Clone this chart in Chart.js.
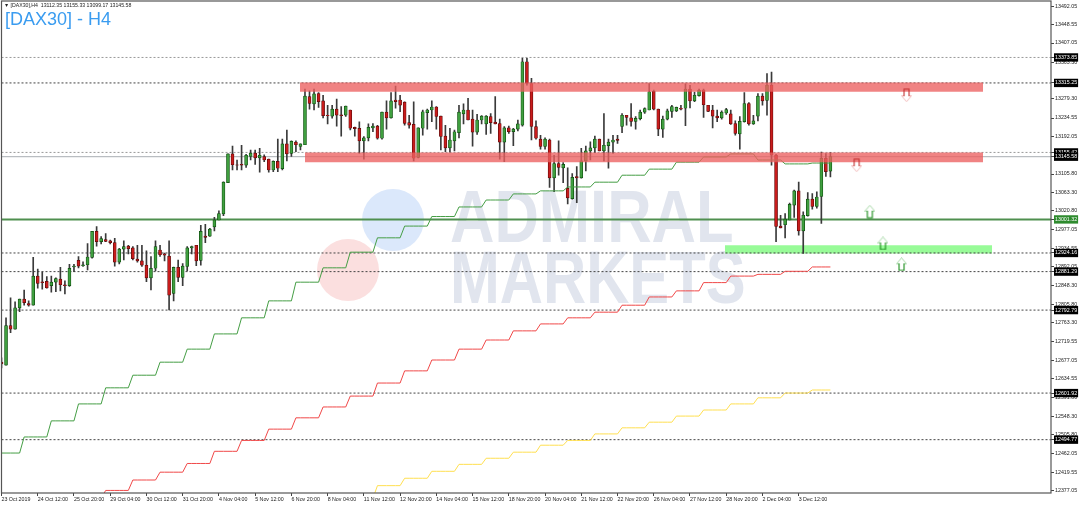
<!DOCTYPE html>
<html>
<head>
<meta charset="utf-8">
<title>DAX30 H4</title>
<script src="https://cdn.jsdelivr.net/npm/chart.js@4"></script>
<style>
    body { margin: 0; background: #fff; }
    #wrap { position: relative; width: 1080px; height: 505px; overflow: hidden; font-family: "Liberation Sans", sans-serif; }
    #grafico { position: absolute; left: 0; top: 0; }
    .head { position: absolute; left: 4px; top: 1px; font-size: 5.2px; line-height: 9px; color: #222; white-space: pre; }
    .titulo { position: absolute; left: 5px; top: 9px; font-size: 18px; line-height: 21px; color: #3a9cf0; white-space: pre; }
    .circ { position: absolute; width: 62px; height: 62px; border-radius: 50%; }
    .marca { position: absolute; left: 450px; font-size: 75px; line-height: 75px; font-weight: bold; color: #e1e5ee; transform-origin: left top; white-space: pre; }
</style>
</head>
<body>
<div id="wrap">
    <div class="circ" style="left:362px; top:189px; background:#dbe8fb;"></div>
    <div class="circ" style="left:317px; top:239px; background:#fbdfdf;"></div>
    <div class="marca" style="top:179px; transform:scaleX(0.82);">ADMIRAL</div>
    <div class="marca" style="top:240px; transform:scaleX(0.797);">MARKETS</div>
    <canvas id="grafico" width="1080" height="505"></canvas>
    <div class="head">▼ [DAX30],H4  13112.35 13155.33 13099.17 13145.58</div>
    <div class="titulo">[DAX30] - H4</div>
</div>
<script>
const opens = [12673,12666,12757,12749,12798,12818,12808,12804,12871,12858,12859,
    12849,12857,12864,12851,12849,12892,12907,12895,12897,12914,
    12974,12950,12955,12952,12948,12903,12933,12940,12936,12910,
    12906,12896,12867,12889,12931,12922,12917,12831,12891,12868,
    12893,12936,12942,12907,12963,12963,12984,13000,13014,13086,
    13152,13127,13128,13126,13146,13154,13143,13146,13140,13115,
    13135,13118,13175,13153,13179,13169,13173,13284,13267,13291,
    13274,13241,13239,13255,13242,13241,13253,13213,13211,13182,
    13189,13212,13216,13188,13248,13235,13276,13276,13271,13224,
    13220,13144,13211,13247,13253,13260,13239,13193,13166,13182,
    13201,13244,13253,13232,13202,13230,13221,13238,13225,13222,
    13179,13212,13203,13209,13218,13364,13314,13215,13186,13169,
    13184,13097,13130,13120,13073,13049,13100,13097,13136,13159,
    13166,13186,13159,13171,13179,13186,13215,13241,13235,13227,
    13233,13248,13253,13296,13255,13209,13232,13250,13251,13257,
    13257,13301,13274,13286,13299,13264,13253,13239,13235,13246,
    13244,13222,13198,13226,13268,13221,13239,13285,13275,13310,
    13149,12986,12989,13000,13034,13067,12975,13010,13048,13031,
    13054,13142,13112.35];
const highs = [12683,12775,12821,12812,12818,12839,12814,12914,12887,12880,12870,
    12871,12867,12891,12860,12898,12898,12916,12904,12946,12974,
    12985,12962,12969,12954,12958,12935,12952,12942,12939,12942,
    12942,12929,12916,12952,12942,12924,12952,12892,12908,12900,
    12939,12940,12942,12988,12990,12981,13006,13021,13088,13152,
    13170,13138,13172,13151,13161,13161,13165,13150,13140,13136,
    13186,13186,13207,13182,13182,13175,13301,13297,13301,13293,
    13287,13264,13264,13278,13261,13262,13253,13214,13226,13192,
    13221,13222,13218,13248,13274,13293,13308,13287,13272,13241,
    13272,13212,13253,13255,13274,13261,13239,13218,13211,13207,
    13264,13267,13280,13253,13243,13240,13240,13245,13284,13232,
    13215,13216,13211,13230,13372,13372,13326,13228,13195,13189,
    13186,13149,13182,13132,13120,13107,13123,13165,13170,13180,
    13193,13186,13245,13186,13195,13195,13245,13241,13268,13238,
    13253,13258,13314,13299,13255,13239,13255,13264,13260,13264,
    13313,13310,13294,13301,13301,13264,13264,13253,13251,13257,
    13253,13228,13238,13293,13270,13241,13291,13291,13337,13340,
    13151,13011,13015,13039,13069,13087,13019,13063,13061,13065,
    13156,13153,13155.33];
const lows = [12660,12666,12741,12749,12789,12804,12802,12804,12843,12841,12843,
    12834,12835,12837,12830,12847,12881,12890,12893,12885,12912,
    12940,12945,12950,12945,12894,12899,12908,12922,12908,12903,
    12893,12858,12839,12883,12916,12906,12793,12814,12858,12849,
    12883,12922,12895,12896,12948,12962,12975,13000,13010,13086,
    13115,13115,13115,13121,13138,13128,13110,13134,13110,13111,
    13111,13115,13136,13146,13157,13161,13173,13255,13253,13259,
    13235,13221,13234,13216,13193,13238,13207,13193,13153,13140,
    13182,13203,13186,13186,13209,13234,13257,13249,13218,13211,
    13136,13143,13195,13209,13226,13209,13161,13157,13156,13159,
    13189,13221,13230,13170,13197,13221,13197,13199,13221,13140,
    13134,13199,13171,13205,13216,13310,13184,13186,13163,13163,
    13075,13065,13103,13086,13037,13048,13040,13096,13113,13138,
    13155,13159,13136,13119,13153,13176,13201,13218,13216,13209,
    13230,13245,13253,13253,13194,13190,13230,13236,13249,13253,
    13217,13258,13272,13285,13236,13249,13212,13226,13232,13243,
    13220,13195,13163,13225,13218,13220,13228,13264,13241,13126,
    12950,12982,12959,13000,13006,12965,12923,13009,13025,13027,
    12992,13100,13099.17];
const closes = [12669,12757,12749,12798,12818,12810,12804,12871,12854,12856,12844,
    12857,12865,12851,12849,12889,12894,12894,12897,12915,12974,
    12950,12957,12951,12948,12903,12933,12939,12934,12911,12906,
    12896,12867,12889,12939,12920,12919,12827,12891,12868,12894,
    12936,12939,12906,12974,12960,12979,13000,13015,13087,13152,
    13127,13126,13126,13149,13154,13143,13149,13138,13115,13135,
    13119,13175,13152,13181,13173,13175,13285,13268,13290,13272,
    13240,13240,13255,13241,13240,13262,13211,13210,13182,13189,
    13213,13216,13188,13248,13235,13274,13272,13264,13222,13218,
    13142,13212,13249,13253,13260,13238,13192,13166,13184,13203,
    13248,13253,13230,13202,13230,13239,13239,13224,13221,13179,
    13212,13203,13209,13221,13364,13314,13215,13188,13169,13186,
    13097,13130,13121,13128,13051,13098,13097,13136,13159,13166,
    13186,13159,13172,13179,13184,13183,13241,13236,13227,13234,
    13248,13256,13295,13255,13209,13232,13251,13261,13259,13255,
    13301,13274,13287,13298,13265,13250,13239,13235,13248,13254,
    13221,13199,13227,13268,13221,13228,13285,13274,13310,13149,
    12985,12982,13002,13036,13067,12975,13011,13048,13031,13053,
    13142,13111,13145.58];

// daily steps of the three averages, one value per 6 candles
const greenSteps = [12464,12501,12538,12577,12614,12643,12673,12703,12738,12775,12814,12857,12890,12926,12959,12986,13008,13030,13046,13060,13067,13076,13087,13103,13117,13133,13145,13152,13138,13129,13131];
const redSteps = [12360,12378,12402,12420,12440,12468,12493,12519,12545,12570,12595,12625,12653,12678,12703,12724,12745,12761,12775,12788,12804,12823,12837,12856,12871,12875,12882,12892];
const yellowSteps = [12360,12389,12406,12422,12438,12452,12466,12482,12493,12508,12522,12535,12549,12563,12577,12591,12602,12609];

const dateLabels = ['23 Oct 2019','24 Oct 12:00','25 Oct 20:00','29 Oct 04:00','30 Oct 12:00','31 Oct 20:00','4 Nov 04:00','5 Nov 12:00','6 Nov 20:00','8 Nov 04:00','11 Nov 12:00','12 Nov 20:00','14 Nov 04:00','15 Nov 12:00','18 Nov 20:00','20 Nov 04:00','21 Nov 12:00','22 Nov 20:00','26 Nov 04:00','27 Nov 12:00','28 Nov 20:00','2 Dec 04:00','3 Dec 12:00'];
const priceTicks = [13492.05,13448.55,13407.05,13363.30,13279.30,13234.55,13192.05,13105.80,13063.30,13020.80,12977.05,12934.55,12892.05,12848.30,12805.80,12763.30,12719.55,12677.05,12634.55,12591.80,12548.30,12505.80,12462.05,12419.55,12377.05];
const dottedDark = [13315.25,12924.16,12881.29,12792.79,12601.92,12494.77];
const dottedLight = [13373.85,13155.42];
const bidLevel = 13145.58;
const greenLevel = 13001.32;

const zoneRed1 = [65.9, 216.7, 13316, 13295];
const zoneRed2 = [67, 216.7, 13155, 13133];
const zoneGreen = [159.7, 218.7, 12942, 12923];
const upArrows = [[191.7, 13019], [194.6, 12946], [198.7, 12898]];
const downArrows = [[199.8, 13287], [188.8, 13126]];

const xEnd = 231.7;
const yMax = 13503.7;
const yMin = 12372.1;

// first step starts at this candle, later ones every 6
function stepLine(steps, firstStep) {
    let pts = [];
    steps.forEach(function (v, k) {
        for (let n = 0; n < 6; n++) {
            let i = 5 + 6 * (firstStep + k) + n;
            if (i >= 0 && i < opens.length) pts.push({ x: i, y: v });
        }
    });
    return pts;
}

function levelLine(y, color, dash, width, order) {
    return {
        type: 'line', data: [{ x: 0, y: y }, { x: xEnd, y: y }],
        borderColor: color, borderWidth: width, borderDash: dash, pointRadius: 0, order: order
    };
}

function zone(z, color, order) {
    return {
        type: 'line', data: [{ x: z[0], y: z[2] }, { x: z[1], y: z[2] }],
        borderWidth: 0, pointRadius: 0, backgroundColor: color,
        fill: { value: z[3] }, order: order
    };
}

function arrowIcon(up, stemColor, headColor) {
    let c = document.createElement('canvas');
    c.width = 11; c.height = 14;
    let g = c.getContext('2d');
    g.lineWidth = 1;
    g.translate(0, up ? 0 : 14);
    g.scale(1, up ? 1 : -1);
    g.strokeStyle = headColor;
    g.beginPath();
    g.moveTo(3, 6.5); g.lineTo(0.5, 6.5); g.lineTo(5.5, 0.5); g.lineTo(10.5, 6.5); g.lineTo(8, 6.5);
    g.stroke();
    g.strokeStyle = stemColor;
    g.lineWidth = 1.1;
    g.beginPath();
    g.moveTo(3, 6); g.lineTo(3, 13); g.lineTo(8, 13); g.lineTo(8, 6);
    g.stroke();
    return c;
}

function arrowSet(list, icon) {
    return {
        type: 'line', showLine: false,
        data: list.map(function (a) { return { x: a[0], y: a[1] }; }),
        pointStyle: icon, pointRadius: 7, order: -2
    };
}

function ma(steps, first, color) {
    return {
        type: 'line', data: stepLine(steps, first), borderColor: color,
        borderWidth: 1, pointRadius: 0, tension: 0, order: 0
    };
}

const wicks = opens.map(function (o, i) { return { x: i, y: [lows[i], highs[i]] }; });
const bodies = opens.map(function (o, i) { return { x: i, y: [o, closes[i]] }; });
const levelTicks = dottedDark.concat(dottedLight, [bidLevel, greenLevel]);

const frame = {
    id: 'frame',
    afterDraw: function (chart) {
        let a = chart.chartArea, g = chart.ctx;
        g.save();
        g.strokeStyle = '#555';
        g.lineWidth = 1.2;
        g.strokeRect(a.left, a.top, a.right - a.left, a.bottom - a.top);
        g.restore();
    }
};

let ctx = document.getElementById('grafico').getContext('2d');
let myChart = new Chart(ctx, {
    type: 'bar',
    plugins: [frame],
    data: {
        datasets: [
            zone(zoneRed1, 'rgba(236,96,96,0.78)', -1),
            zone(zoneRed2, 'rgba(236,96,96,0.78)', -1),
            zone(zoneGreen, 'rgb(152,251,152)', 6),
            levelLine(greenLevel, '#4f8f4f', [], 2, 3),
            levelLine(bidLevel, '#a8adb2', [], 1, 5),
            ...dottedDark.map(function (v) { return levelLine(v, '#444', [2, 2], 1, 4); }),
            ...dottedLight.map(function (v) { return levelLine(v, '#999', [2, 2], 1, 4); }),
            ma(greenSteps, -1, '#459e45'),
            ma(redSteps, 2, '#f04848'),
            ma(yellowSteps, 12, '#ffdf50'),
            arrowSet(upArrows, arrowIcon(true, '#178a17', '#a9d8a9')),
            arrowSet(downArrows, arrowIcon(false, '#c23030', '#f2bcbc')),
            {
                type: 'bar', data: wicks, grouped: false, barThickness: 1,
                backgroundColor: '#3a3a3a', order: 2
            },
            {
                type: 'bar', data: bodies, grouped: false, barThickness: 3, borderSkipped: false, borderWidth: 0.7,
                backgroundColor: opens.map(function (o, i) { return closes[i] >= o ? '#3f9f3f' : '#c81c1c'; }),
                borderColor: opens.map(function (o, i) { return closes[i] >= o ? '#0c4a0c' : '#5a0808'; }),
                order: 1
            }
        ]
    },
    options: {
        responsive: false,
        animation: false,
        layout: { autoPadding: false, padding: { left: 1.5, top: 1, right: 0, bottom: 0 } },
        plugins: { legend: { display: false }, tooltip: { enabled: false } },
        scales: {
            x: {
                type: 'linear', min: 0, max: xEnd, offset: false,
                border: { display: false },
                grid: { drawOnChartArea: false, offset: false, tickLength: 3, color: '#444' },
                afterBuildTicks: function (s) { s.ticks = dateLabels.map(function (d, j) { return { value: j * 8 }; }); },
                afterFit: function (s) { s.height = 12; s.paddingLeft = 0; s.paddingRight = 0; },
                ticks: {
                    autoSkip: false, maxRotation: 0, align: 'start', padding: 0, color: '#222',
                    font: { family: 'Liberation Sans', size: 5.3 },
                    callback: function (v) { return dateLabels[v / 8]; }
                }
            },
            y: {
                type: 'linear', position: 'right', min: yMin, max: yMax,
                border: { display: false },
                grid: { drawOnChartArea: false, tickLength: 3, color: '#444' },
                afterBuildTicks: function (s) { s.ticks = priceTicks.concat(levelTicks).map(function (v) { return { value: v }; }); },
                afterFit: function (s) { s.width = 29; s.paddingTop = 0; s.paddingBottom = 0; },
                ticks: {
                    autoSkip: false, padding: 1,
                    font: { family: 'Liberation Sans', size: 5.3 },
                    color: function (c) { return levelTicks.includes(c.tick.value) ? '#fff' : '#222'; },
                    showLabelBackdrop: function (c) { return levelTicks.includes(c.tick.value); },
                    backdropColor: function (c) { return c.tick.value === greenLevel ? '#2e8b2e' : '#000'; },
                    backdropPadding: 1,
                    callback: function (v) { return v.toFixed(2); }
                }
            }
        }
    }
});
</script>
</body>
</html>
